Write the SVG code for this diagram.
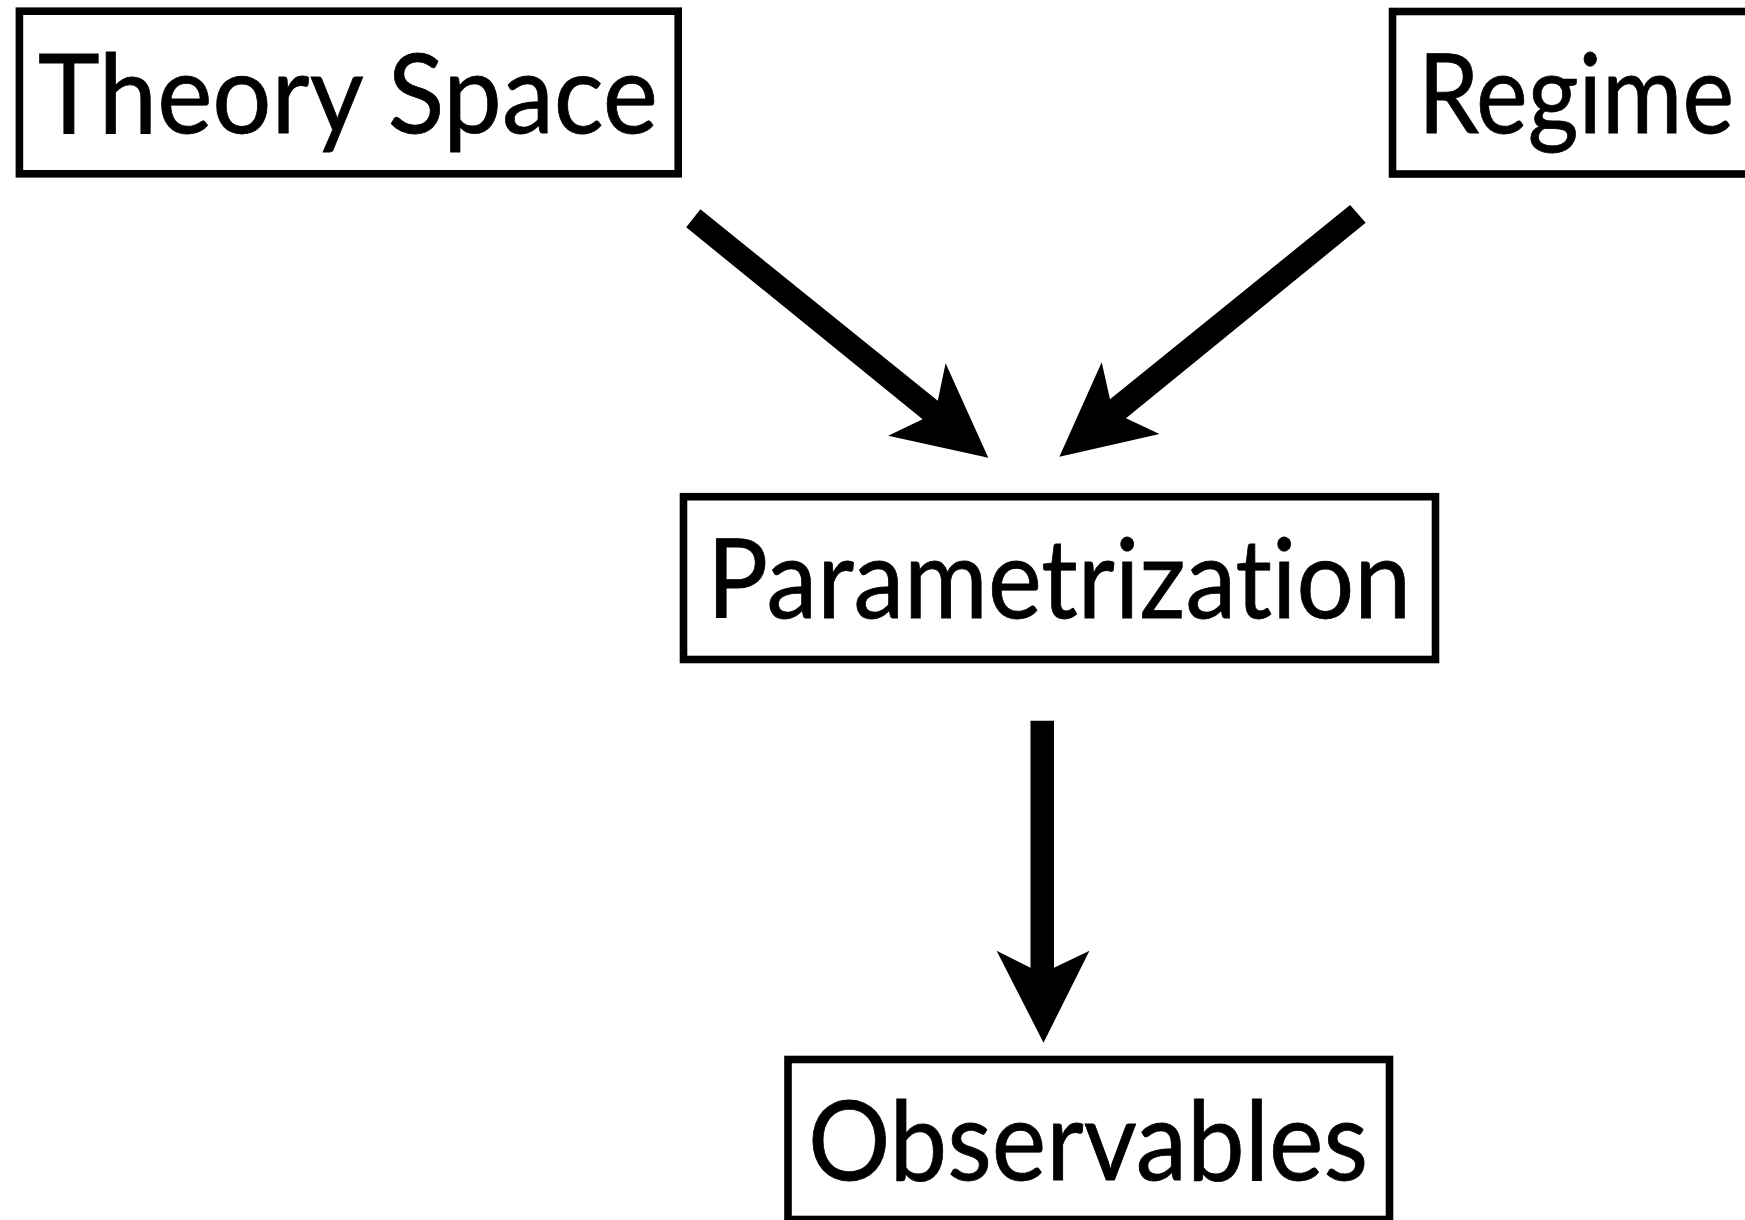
<svg xmlns="http://www.w3.org/2000/svg" width="1745" height="1220" viewBox="0 0 1745 1220">
<style>
.box{fill:#fff;stroke:#000;stroke-width:7.6}
.lbl{font-family:Lato,"Open Sans","Liberation Sans",sans-serif;font-size:110px;fill:#000;font-variant-ligatures:none;font-feature-settings:"liga" 0,"clig" 0;stroke:#000;stroke-width:0.8}
.arr{fill:#000;stroke:none}
</style>
<rect width="1745" height="1220" fill="#fff"/>
<g id="node-theory-space">
<rect class="box" x="19.4" y="11.2" width="658.8" height="162.6"/>
<text class="lbl" x="38" y="133" textLength="620" lengthAdjust="spacingAndGlyphs">Theory Space</text>
</g>
<g id="node-regime">
<rect class="box" x="1392.5" y="11.5" width="380" height="162.5"/>
<text class="lbl" x="1418" y="133" textLength="316" lengthAdjust="spacingAndGlyphs">Regime</text>
</g>
<g id="node-parametrization">
<rect class="box" x="683.5" y="496.7" width="752" height="162.8"/>
<text class="lbl" x="707" y="618" textLength="704" lengthAdjust="spacingAndGlyphs">Parametrization</text>
</g>
<g id="node-observables">
<rect class="box" x="788" y="1059.5" width="601.5" height="160"/>
<text class="lbl" x="808" y="1180" textLength="560" lengthAdjust="spacingAndGlyphs">Observables</text>
</g>
<g id="connectors">
<polygon class="arr" points="700.4,209.3 937.8,400.7 945.6,363.3 988.3,457.7 888.2,435.7 922.6,419.3 686.2,227.3"/>
<polygon class="arr" points="1350.1,205 1110,399.3 1101.7,362.3 1059.4,456.7 1159.5,434 1126,418.3 1365.7,222.7"/>
<polygon class="arr" points="1030.5,720.7 1054,720.7 1054,967.7 1089.5,950.7 1043.5,1042.7 996.6,950.7 1030.5,967.7"/>
</g>
</svg>
